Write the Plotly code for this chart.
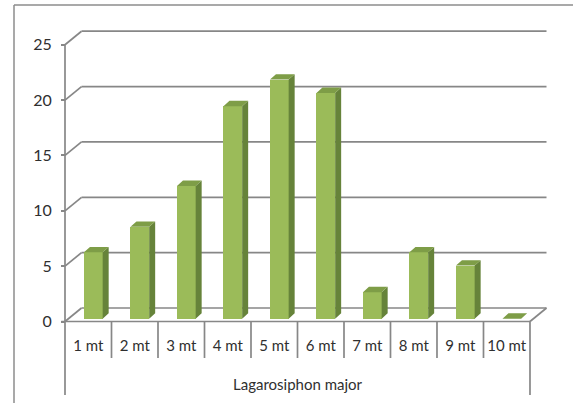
import plotly.graph_objects as go

# Data
categories = ["1 mt", "2 mt", "3 mt", "4 mt", "5 mt", "6 mt", "7 mt", "8 mt", "9 mt", "10 mt"]
values = [6.0, 8.3, 12.0, 19.2, 21.6, 20.4, 2.4, 6.0, 4.8, 0.0]
y_ticks = [0, 5, 10, 15, 20, 25]
axis_title = "Lagarosiphon major"

# Pseudo-3D geometry (in axis units)
W_PX, H_PX = 573, 403
X_RANGE = [-1.898, 10.425]
Y_RANGE = [-7.36, 29.04]
DEPTH_DX, DEPTH_DY = 0.355, 1.22      # back wall offset
BAR_BASE = 0.25                       # bar floor sits slightly behind the front edge
BAR_OFFSET, BAR_WIDTH = -0.092, 0.402
SIDE_DX, SIDE_DY = 0.129, 0.49        # bar depth

FRONT = "#9BBB59"
SIDE = "#66833A"
TOP = "#7E9D47"
GRID = "#878787"
TEXT = "#2f2f2f"
FONT = "Lato, 'Open Sans', sans-serif"

n = len(categories)
xs = list(range(n))
left_edge, right_edge = -0.5, n - 0.5

fig = go.Figure()

# Front faces
fig.add_trace(go.Bar(
    x=xs, y=values, base=BAR_BASE, offset=BAR_OFFSET, width=BAR_WIDTH,
    marker=dict(color=FRONT, line=dict(width=0)), hoverinfo="skip",
))

# Side and top faces
side_x, side_y, top_x, top_y = [], [], [], []
for i, v in zip(xs, values):
    xl = i + BAR_OFFSET
    xr = xl + BAR_WIDTH
    b = BAR_BASE
    t = BAR_BASE + v
    side_x += [xr, xr + SIDE_DX, xr + SIDE_DX, xr, xr, None]
    side_y += [b, b + SIDE_DY, t + SIDE_DY, t, b, None]
    top_x += [xl, xr, xr + SIDE_DX, xl + SIDE_DX, xl, None]
    top_y += [t, t, t + SIDE_DY, t + SIDE_DY, t, None]

fig.add_trace(go.Scatter(x=side_x, y=side_y, mode="lines", fill="toself",
                         fillcolor=SIDE, line=dict(width=0, color=SIDE), hoverinfo="skip"))
fig.add_trace(go.Scatter(x=top_x, y=top_y, mode="lines", fill="toself",
                         fillcolor=TOP, line=dict(width=0, color=TOP), hoverinfo="skip"))

shapes = []

def seg(x0, y0, x1, y1, width=1.7, color=GRID, ref="data"):
    xref, yref = ("x", "y") if ref == "data" else ("paper", "paper")
    shapes.append(dict(type="line", x0=x0, y0=y0, x1=x1, y1=y1, xref=xref, yref=yref,
                       layer="below", line=dict(color=color, width=width)))

# Chart area frame
seg(14 / W_PX, 1 - 5 / H_PX, 1.0, 1 - 5 / H_PX, width=1.5, color="#8c8c8c", ref="paper")
seg(14 / W_PX, 1 - 5 / H_PX, 14 / W_PX, 0.0, width=1.5, color="#8c8c8c", ref="paper")

# Back wall gridlines and side wall diagonals
for v in y_ticks:
    seg(left_edge + DEPTH_DX, v + DEPTH_DY, right_edge + DEPTH_DX, v + DEPTH_DY)
    seg(left_edge, v, left_edge + DEPTH_DX, v + DEPTH_DY)

# Front value axis line
seg(left_edge, 0, left_edge, y_ticks[-1])
# Floor front edge and right diagonal
seg(left_edge - 0.08, 0, right_edge, 0)
seg(right_edge, 0, right_edge + DEPTH_DX, DEPTH_DY)

# Category separators (outer ones run down past the axis title)
inner_bottom = Y_RANGE[1] - 358 / H_PX * (Y_RANGE[1] - Y_RANGE[0])
outer_bottom = Y_RANGE[1] - 395 / H_PX * (Y_RANGE[1] - Y_RANGE[0])
for k in range(n + 1):
    xk = left_edge + k
    seg(xk, 0, xk, outer_bottom if k in (0, n) else inner_bottom)

title_y = Y_RANGE[1] - 384 / H_PX * (Y_RANGE[1] - Y_RANGE[0])

fig.update_layout(
    width=W_PX, height=H_PX,
    margin=dict(l=0, r=0, t=0, b=0),
    paper_bgcolor="white", plot_bgcolor="white",
    showlegend=False,
    shapes=shapes,
    font=dict(family=FONT, color=TEXT, size=15),
    xaxis=dict(
        range=X_RANGE, domain=[0, 1], anchor="free", position=1 - 321.5 / H_PX,
        tickmode="array", tickvals=xs, ticktext=categories,
        ticks="", showgrid=False, zeroline=False, showline=False,
        ticklabelstandoff=13, tickfont=dict(size=15, color=TEXT, family=FONT),
    ),
    yaxis=dict(
        range=Y_RANGE, domain=[0, 1], anchor="free", position=65 / W_PX,
        tickmode="array", tickvals=y_ticks,
        ticks="outside", ticklen=4, tickwidth=1.5, tickcolor=GRID,
        showgrid=False, zeroline=False, showline=False,
        ticklabelstandoff=6, tickfont=dict(size=16, color=TEXT, family=FONT),
    ),
    annotations=[dict(
        x=(left_edge + right_edge) / 2, y=title_y, xref="x", yref="y",
        text=axis_title, showarrow=False, xanchor="center", yanchor="middle",
        font=dict(size=15, color=TEXT, family=FONT),
    )],
    bargap=0,
)

fig.write_html("out.html")
